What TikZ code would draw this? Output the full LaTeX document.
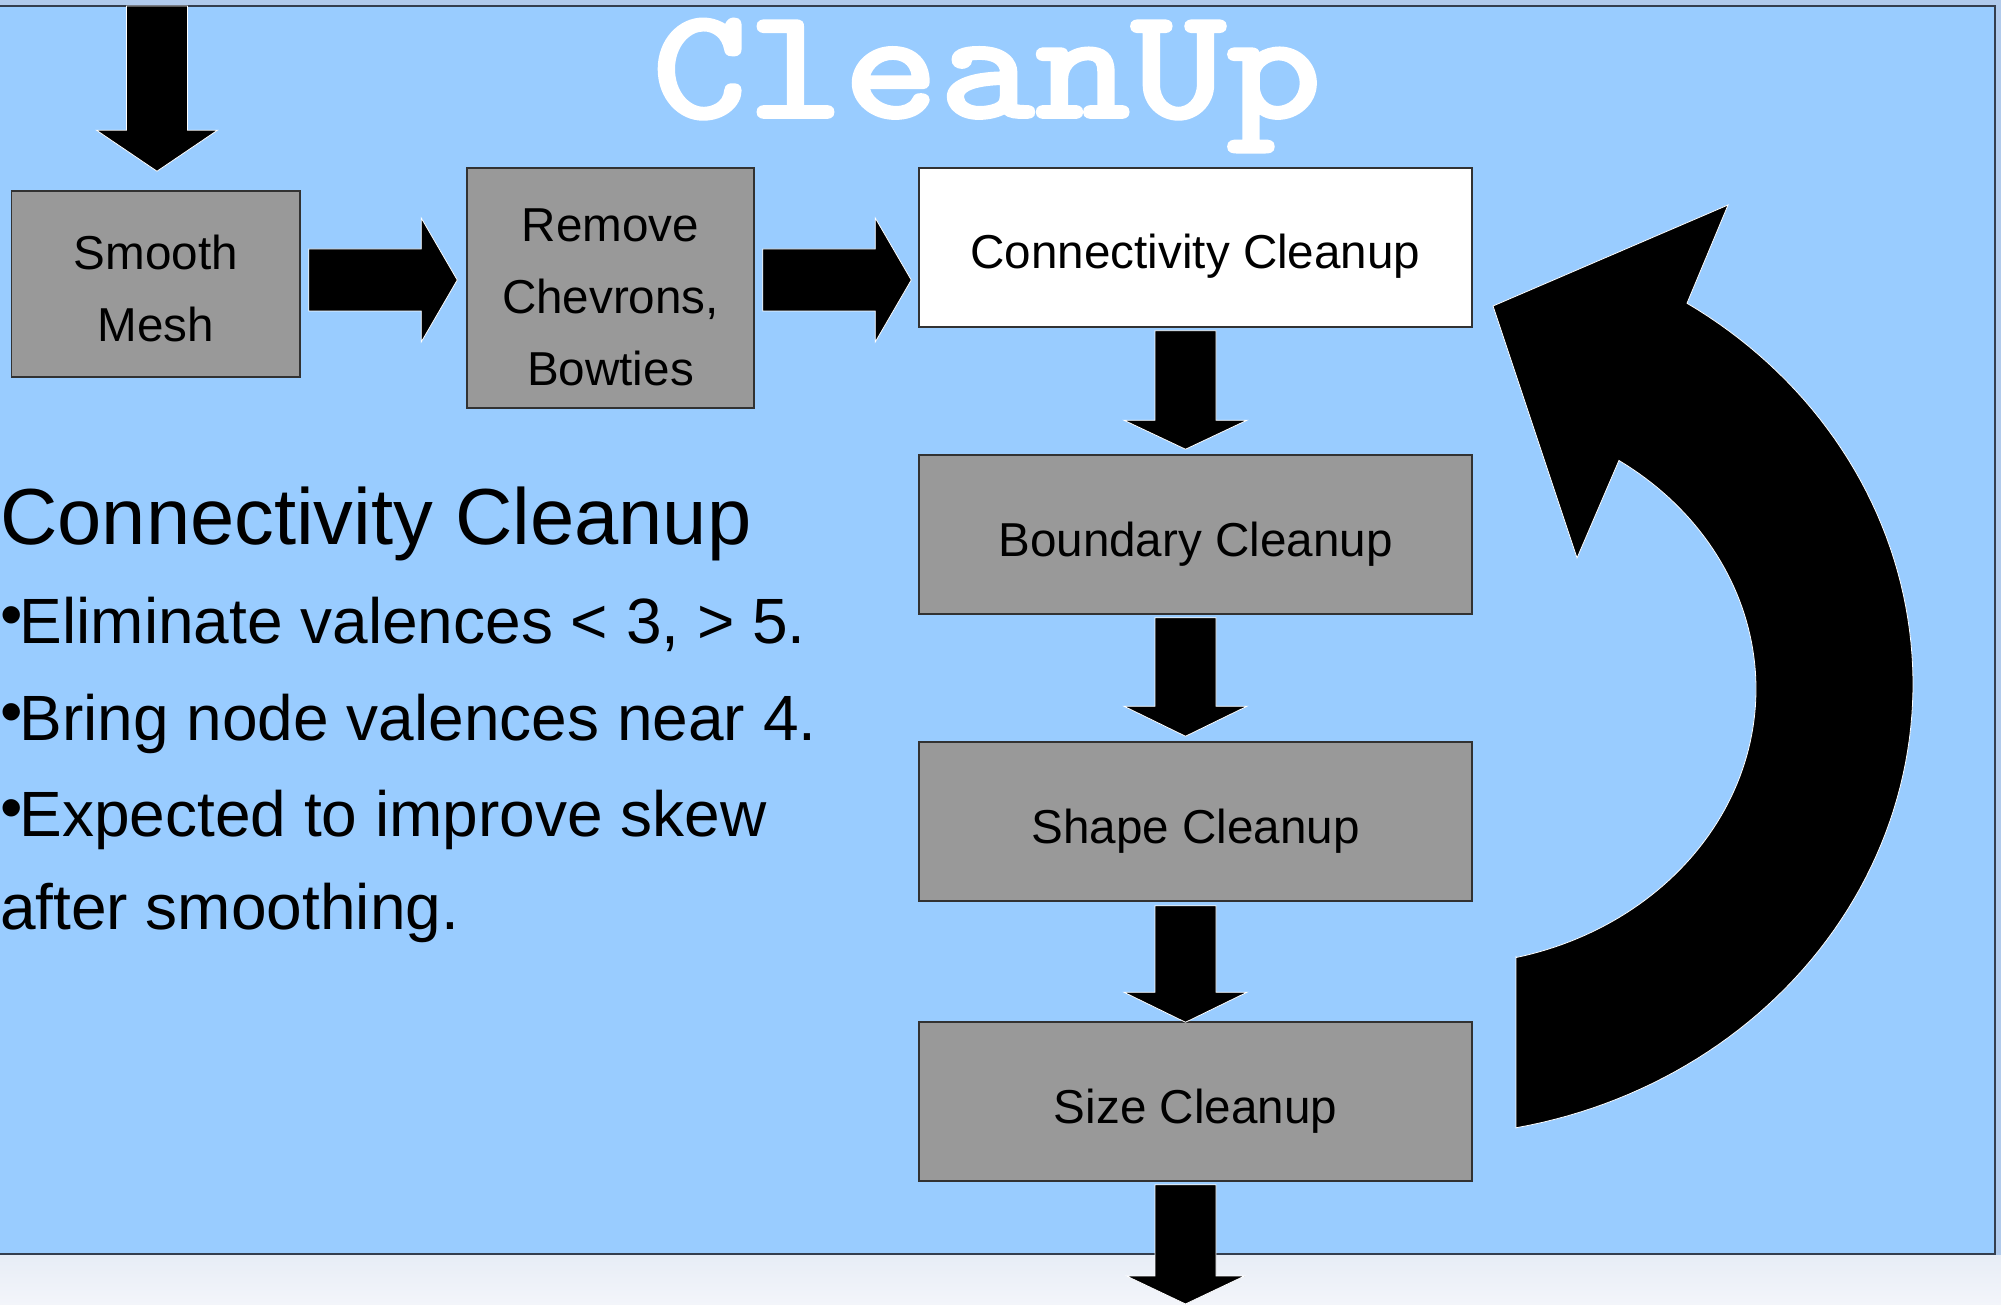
\documentclass[tikz,border=0pt]{standalone}
\usepackage{fontspec}
\setmainfont{Liberation Sans}
\newfontfamily\titlefont{lmmonolt10-bold.otf}[FakeBold=1.2]
\usetikzlibrary{calc}

\definecolor{slideblue}{RGB}{153,204,255}
\definecolor{framegrey}{RGB}{176,202,236}
\definecolor{rulecol}{RGB}{52,62,78}
\definecolor{boxgrey}{RGB}{153,153,153}
\definecolor{edgegrey}{RGB}{50,50,50}
\definecolor{foottop}{RGB}{231,237,246}
\definecolor{footbot}{RGB}{243,245,250}

% block arrow pointing right: start point, tip point, head length
\newcommand\rightblock[3]{%
  \fill[blockarrow] let \p1=#1, \p2=#2 in
    (\x1,{\y2+31pt}) -- ({\x2-#3},{\y2+31pt}) -- ({\x2-#3},{\y2+62pt})
    -- (\x2,\y2) -- ({\x2-#3},{\y2-62pt}) -- ({\x2-#3},{\y2-31pt})
    -- (\x1,{\y2-31pt}) -- cycle;}

% block arrow pointing down: start point, tip point, head length, head half-width
\newcommand\downblock[4]{%
  \fill[blockarrow] let \p1=#1, \p2=#2 in
    ({\x2-30.5pt},\y1) -- ({\x2+30.5pt},\y1) -- ({\x2+30.5pt},{\y2+#3})
    -- ({\x2+#4},{\y2+#3}) -- (\x2,\y2) -- ({\x2-#4},{\y2+#3})
    -- ({\x2-30.5pt},{\y2+#3}) -- cycle;}

\newcommand\bul{\raisebox{0.1em}{•}\kern-3pt}

\begin{document}
\begin{tikzpicture}[x=1pt,y=-1pt,
  box/.style={draw=edgegrey, line width=1.5pt, fill=boxgrey, inner sep=0pt,
    font=\fontsize{47.6}{72}\selectfont, align=center},
  oneline/.style={text height=43pt, text depth=0pt},
  blockarrow/.style={fill=black, draw=white, line width=0.8pt, line join=miter},
  bigtext/.style={anchor=base west, inner sep=0pt, font=\fontsize{64}{95}\selectfont},
]
\useasboundingbox (0,0) rectangle (2001,1305);

% slide frame and background
\fill[framegrey] (0,0) rectangle (2001,1305);
\shade[top color=foottop, bottom color=footbot] (0,1255) rectangle (2001,1305);
\fill[slideblue] (0,6) rectangle (1995,1254);
\draw[rulecol, line width=2pt] (0,6) -- (1995,6) -- (1995,1254) -- (0,1254);

% title
\node[font=\titlefont\fontsize{160}{160}\selectfont, text=white,
  anchor=base, inner sep=0pt, text height=100pt, text depth=30pt] (title) at (987,118)
  {\scalebox{1.14}[1]{CleanUp}};

% process boxes
\node[box, minimum width=288.5pt, minimum height=186pt] (smooth) at (155.75,284)
  {\rule{0pt}{43pt}Smooth\\Mesh};
\node[box, minimum width=287pt, minimum height=240pt] (remove) at (610.5,288)
  {\rule{0pt}{51pt}Remove\\Chevrons,\\Bowties};
\node[box, oneline, fill=white, minimum width=553pt, minimum height=159pt] (conn) at (1195.5,247.5) {Connectivity Cleanup};
\node[box, oneline, minimum width=553pt, minimum height=159pt] (bnd) at (1195.5,534.5) {Boundary Cleanup};
\node[box, oneline, minimum width=553pt, minimum height=159pt] (shp) at (1195.5,821.5) {Shape Cleanup};
\node[box, oneline, minimum width=553pt, minimum height=159pt] (size) at (1195.5,1101.5) {Size Cleanup};

% connectors
\coordinate (entry) at (157,6);
\coordinate (exit) at (1185.5,1304);
\coordinate (rowy) at (0,280);

\downblock{(entry)}{($(smooth.north)+(1.25,-19)$)}{41pt}{60.5pt}
\rightblock{($(smooth.east)+(8,0)$)}{($(remove.west |- rowy)+(-9,0)$)}{36pt}
\rightblock{($(remove.east)+(8,0)$)}{($(conn.west |- rowy)+(-7,0)$)}{36pt}
\downblock{($(conn.south)+(-10,3)$)}{($(bnd.north)+(-10,-5)$)}{29pt}{61.5pt}
\downblock{($(bnd.south)+(-10,3)$)}{($(shp.north)+(-10,-5)$)}{30pt}{61.5pt}
\downblock{($(shp.south)+(-10,4)$)}{($(size.north)+(-10,1)$)}{30pt}{61.5pt}
\downblock{($(size.south)+(-10,3)$)}{(exit)}{28pt}{59pt}

% loop-back arrow
\fill[blockarrow] (1516,957) -- (1516,1128)
  -- plot[domain=-79:57.4, samples=90, variable=\u] ({1423+490*cos(\u)},{684-452*sin(\u)})
  -- (1728,205) -- (1493,306) -- (1577,558)
  -- plot[domain=-55.9:76.6, samples=90, variable=\u] ({1444+312*cos(\u)},{689+276*sin(\u)})
  -- cycle;

% notes
\node[anchor=base west, inner sep=0pt, font=\fontsize{79.5}{95}\selectfont] (head) at (0,544) {Connectivity Cleanup};
\node[bigtext] (l1) at (0,643) {\bul Eliminate valences < 3, > 5.};
\node[bigtext] (l2) at (0,740) {\bul Bring node valences near 4.};
\node[bigtext] (l3) at (0,836) {\bul Expected to improve skew};
\node[bigtext] (l4) at (0,929) {after smoothing.};
\end{tikzpicture}
\end{document}
